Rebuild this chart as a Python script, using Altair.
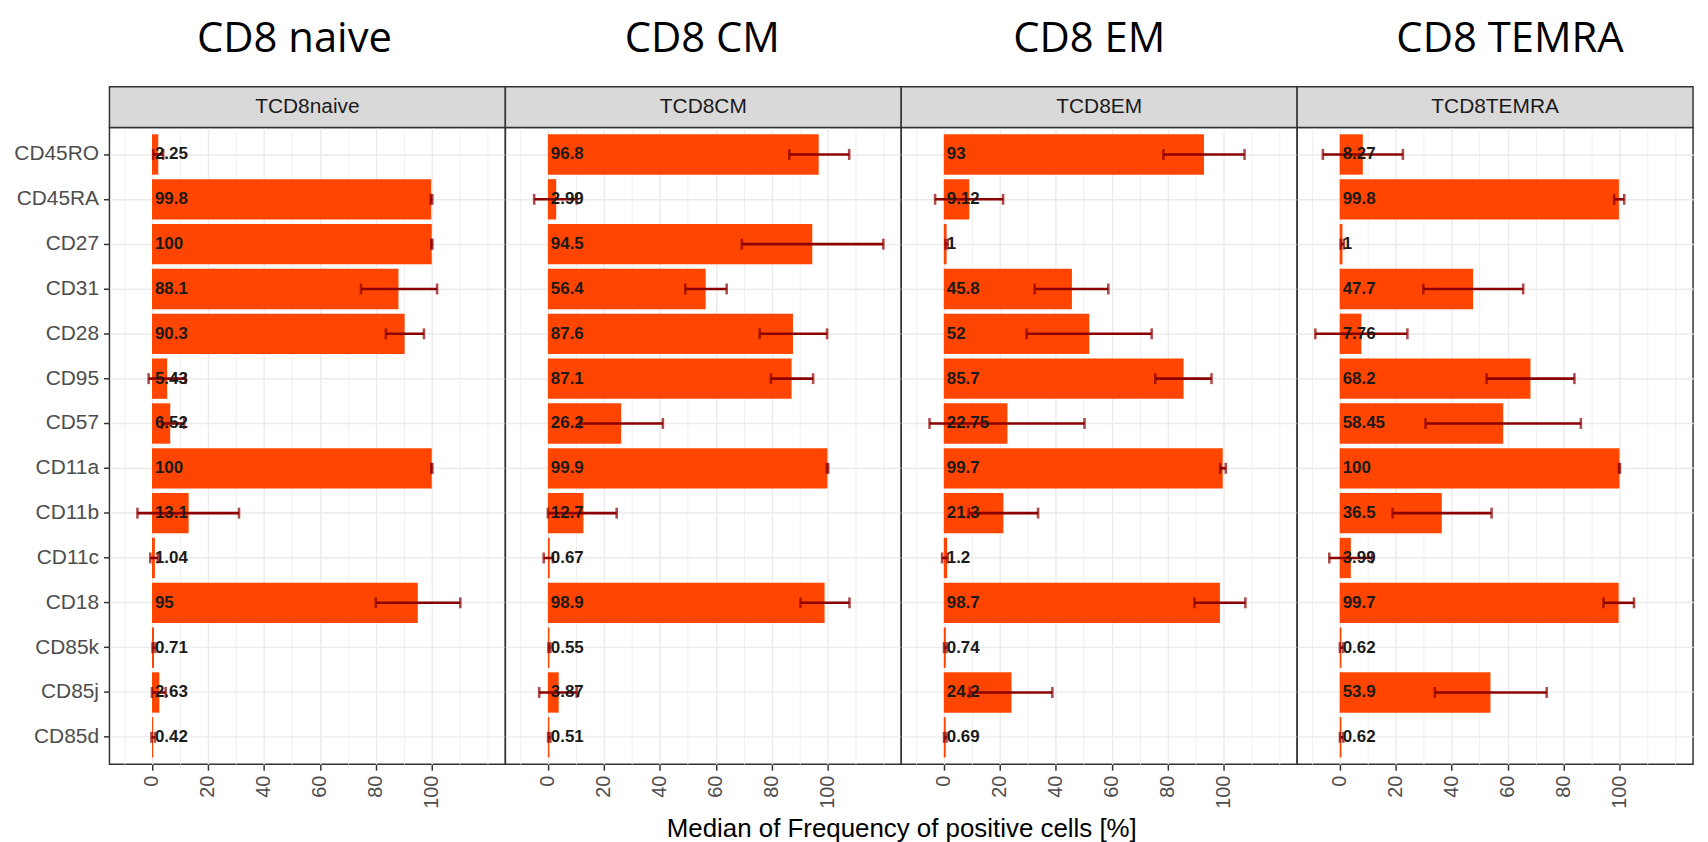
import altair as alt
import pandas as pd

markers = ["CD45RO", "CD45RA", "CD27", "CD31", "CD28", "CD95", "CD57",
           "CD11a", "CD11b", "CD11c", "CD18", "CD85k", "CD85j", "CD85d"]
panels = ["TCD8naive", "TCD8CM", "TCD8EM", "TCD8TEMRA"]
titles = ["CD8 naive", "CD8 CM", "CD8 EM", "CD8 TEMRA"]

naive_median = [2.25, 99.8, 100, 88.1, 90.3, 5.43, 6.52, 100, 13.1, 1.04, 95, 0.71, 2.63, 0.42]
naive_label = ["2.25", "99.8", "100", "88.1", "90.3", "5.43", "6.52", "100", "13.1", "1.04", "95", "0.71", "2.63", "0.42"]
naive_low = [0.4, 99.6, 99.8, 74.7, 83.6, -1.2, 3.5, 99.8, -5.2, -0.6, 80.0, 0.2, 0.0, -0.2]
naive_high = [4.0, 100.2, 100.2, 101.9, 97.2, 12.0, 11.5, 100.2, 31.1, 2.1, 110.2, 1.2, 4.9, 1.1]

cm_median = [96.8, 2.99, 94.5, 56.4, 87.6, 87.1, 26.2, 99.9, 12.7, 0.67, 98.9, 0.55, 3.87, 0.51]
cm_label = ["96.8", "2.99", "94.5", "56.4", "87.6", "87.1", "26.2", "99.9", "12.7", "0.67", "98.9", "0.55", "3.87", "0.51"]
cm_low = [86.3, -4.9, 69.3, 49.1, 75.7, 79.7, 11.5, 99.7, 0.0, -1.5, 90.3, 0.2, -3.1, 0.1]
cm_high = [107.7, 10.3, 119.9, 63.9, 99.8, 94.8, 41.1, 100.2, 24.6, 1.8, 107.8, 0.9, 10.3, 0.9]

em_median = [93, 9.12, 1, 45.8, 52, 85.7, 22.75, 99.7, 21.3, 1.2, 98.7, 0.74, 24.2, 0.69]
em_label = ["93", "9.12", "1", "45.8", "52", "85.7", "22.75", "99.7", "21.3", "1.2", "98.7", "0.74", "24.2", "0.69"]
em_low = [78.5, -3.1, 0.6, 32.5, 29.6, 75.6, -5.1, 98.8, 8.9, -0.6, 89.6, 0.1, 9.3, 0.1]
em_high = [107.5, 21.2, 1.4, 58.8, 74.3, 95.7, 50.3, 100.8, 33.7, 1.4, 107.8, 1.1, 38.8, 1.0]

temra_median = [8.27, 99.8, 1, 47.7, 7.76, 68.2, 58.45, 100, 36.5, 3.99, 99.7, 0.62, 53.9, 0.62]
temra_label = ["8.27", "99.8", "1", "47.7", "7.76", "68.2", "58.45", "100", "36.5", "3.99", "99.7", "0.62", "53.9", "0.62"]
temra_low = [-6.0, 98.1, 0.4, 29.9, -8.7, 52.5, 30.7, 99.8, 18.9, -3.7, 94.3, 0.1, 34.0, 0.1]
temra_high = [22.6, 101.7, 1.5, 65.6, 24.2, 83.9, 86.2, 100.2, 54.3, 11.6, 105.2, 1.3, 74.0, 1.3]

x_title = "Median of Frequency of positive cells [%]"

series = [
    (naive_median, naive_label, naive_low, naive_high),
    (cm_median, cm_label, cm_low, cm_high),
    (em_median, em_label, em_low, em_high),
    (temra_median, temra_label, temra_low, temra_high),
]

rows = []
for p, (med, lab, lo, hi) in zip(panels, series):
    for m, v, l, a, b in zip(markers, med, lab, lo, hi):
        rows.append({"panel": p, "marker": m, "median": v, "label": l, "low": a, "high": b})
df = pd.DataFrame(rows)

W, H = 398, 640
STRIP = 41
title_dx = [-13, -1, -10, 15]

xscale = alt.Scale(domain=[-15.2, 126.3], nice=False)
yscale = alt.Scale(domain=markers, paddingInner=0.1, paddingOuter=0.15)

major_test = "datum.value >= 0 && datum.value <= 100 && datum.value % 20 == 0"


def make_panel(i):
    first = i == 0
    xaxis = alt.Axis(
        values=list(range(-10, 121, 10)),
        labelExpr="(" + major_test + ") ? datum.label : ''",
        labelAngle=270, labelFontSize=20, labelColor="#4D4D4D",
        labelFont="Liberation Sans", labelPadding=5, labelOverlap=False,
        labelFlush=False,
        tickColor="#333333", tickSize=6, tickWidth=1.5,
        tickOpacity={"condition": {"test": major_test, "value": 1}, "value": 0},
        grid=True, gridColor="#EBEBEB",
        gridWidth={"condition": {"test": major_test, "value": 1.4}, "value": 0.8},
        domain=False,
        title=x_title if i == 1 else None,
        titleX=W, titleY=73, titleAlign="center", titleBaseline="alphabetic",
        titleFontSize=26, titleFont="Liberation Sans", titleColor="#000000",
        titleFontWeight="normal",
    )
    yaxis = alt.Axis(
        title=None, labels=first, ticks=first, domain=False,
        grid=True, gridColor="#EBEBEB", gridWidth=1.4, bandPosition=0.5,
        labelFontSize=21, labelColor="#4D4D4D", labelFont="Liberation Sans",
        tickColor="#333333", tickSize=6, tickWidth=1.5, labelPadding=5,
        minExtent=96 if first else 0, maxExtent=96 if first else 0,
    )
    Y = alt.Y("marker:N", scale=yscale, axis=yaxis)
    base = alt.Chart(df).transform_filter(alt.datum.panel == panels[i])

    bars = base.mark_bar(color="#FF4500").encode(
        x=alt.X("median:Q", scale=xscale, axis=xaxis),
        x2=alt.X2(datum=0),
        y=Y,
    )
    rule = base.mark_rule(color="#8B0000", strokeWidth=2.6).encode(
        x=alt.X("low:Q", scale=xscale, axis=xaxis),
        x2="high:Q",
        y=Y,
    )
    cap_lo = base.mark_tick(color="#8B0000", thickness=2.6, size=11, orient="vertical").encode(
        x=alt.X("low:Q", scale=xscale, axis=xaxis), y=Y)
    cap_hi = base.mark_tick(color="#8B0000", thickness=2.6, size=11, orient="vertical").encode(
        x=alt.X("high:Q", scale=xscale, axis=xaxis), y=Y)
    text = base.mark_text(align="left", baseline="middle", dx=3, fontSize=17,
                          fontWeight="bold", font="Liberation Sans", color="#1A1A1A").encode(
        x=alt.X(datum=0, scale=xscale, axis=xaxis), y=Y, text="label:N")

    head = alt.Chart(alt.Data(values=[{"strip": panels[i], "title": titles[i]}]))
    strip = head.mark_rect(fill="#D9D9D9", stroke="#333333", strokeWidth=1.5).encode(
        x=alt.value(0), x2=alt.value(W), y=alt.value(-STRIP), y2=alt.value(0))
    strip_text = head.mark_text(fontSize=21, color="#1A1A1A", font="Liberation Sans",
                                baseline="middle").encode(
        x=alt.value(W / 2), y=alt.value(-STRIP / 2), text="strip:N")
    big_title = head.mark_text(fontSize=42, color="#000000", font="Open Sans",
                               baseline="alphabetic", dx=title_dx[i]).encode(
        x=alt.value(W / 2), y=alt.value(-76), text="title:N")

    return alt.layer(bars, rule, cap_lo, cap_hi, text, strip, strip_text, big_title).properties(
        width=W, height=H)


chart = alt.hconcat(*[make_panel(i) for i in range(4)], spacing=0, bounds="flush").configure_view(
    stroke="#333333", strokeWidth=1.5
).properties(
    padding={"left": 5, "top": 7, "right": 5, "bottom": 0},
    background="white",
)

chart.save("out.html", embed_options={"renderer": "svg", "actions": False})
